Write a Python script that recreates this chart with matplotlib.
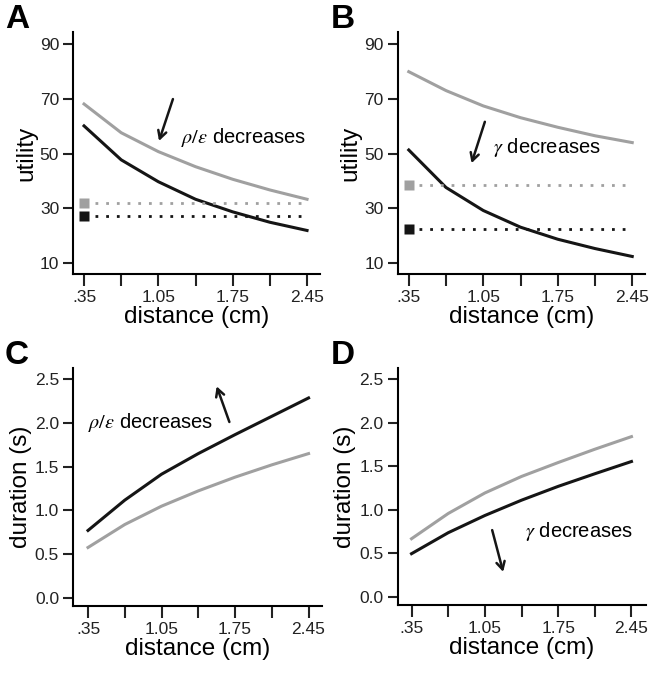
import matplotlib
matplotlib.use("Agg")
import matplotlib.pyplot as plt

plt.rcParams["font.family"] = ["Liberation Sans", "DejaVu Sans"]
plt.rcParams["mathtext.fontset"] = "stix"

# distances (cm)
dist = [0.35, 0.70, 1.05, 1.40, 1.75, 2.10, 2.45]
xtick_labels = [".35", "", "1.05", "", "1.75", "", "2.45"]

# A: utility, rho/eps decreases
a_gray = [68.1, 57.6, 50.7, 45.2, 40.6, 36.7, 33.3]
a_black = [60.1, 47.7, 39.7, 33.3, 28.7, 24.9, 21.9]
a_gray_ref = 32.1
a_black_ref = 27.2

# B: utility, gamma decreases
b_gray = [79.9, 73.0, 67.4, 63.1, 59.6, 56.5, 54.0]
b_black = [51.3, 37.6, 29.2, 23.1, 18.7, 15.3, 12.4]
b_gray_ref = 38.5
b_black_ref = 22.6

# C: duration, rho/eps decreases
c_black = [0.77, 1.117, 1.414, 1.65, 1.867, 2.077, 2.287]
c_gray = [0.575, 0.838, 1.048, 1.223, 1.38, 1.521, 1.65]

# D: duration, gamma decreases
d_gray = [0.667, 0.957, 1.193, 1.383, 1.543, 1.696, 1.841]
d_black = [0.495, 0.736, 0.934, 1.11, 1.269, 1.414, 1.555]

GRAY = "#a0a0a0"
BLACK = "#151515"
W, H = 653, 679

fig = plt.figure(figsize=(W / 100, H / 100), dpi=100)


def px_axes(l, t, r, b):
    return fig.add_axes([l / W, 1 - b / H, (r - l) / W, (b - t) / H])


def style(ax, xlim, ylim, yticks, ylabel):
    for s in ("top", "right"):
        ax.spines[s].set_visible(False)
    for s in ("left", "bottom"):
        ax.spines[s].set_linewidth(1.5)
    ax.set_xlim(*xlim)
    ax.set_ylim(*ylim)
    ax.set_xticks(dist)
    ax.set_xticklabels(xtick_labels)
    ax.set_yticks(yticks[0])
    ax.set_yticklabels(yticks[1])
    ax.tick_params(length=7, width=1.5, labelsize=12.5, pad=3, colors="#222")
    ax.tick_params(axis="x", length=8.5)
    ax.set_xlabel("distance (cm)", fontsize=17.5, labelpad=1)
    ax.set_ylabel(ylabel, fontsize=17.5, labelpad=2)


def refs(ax, g, k):
    ax.plot([0.35], [g], marker="s", ms=6.5, color=GRAY, mec="none", clip_on=False)
    ax.plot([0.35], [k], marker="s", ms=6.5, color=BLACK, mec="none", clip_on=False)
    ax.plot([0.45, 2.45], [g, g], color=GRAY, lw=2, ls=(0, (1, 2.85)))
    ax.plot([0.45, 2.45], [k, k], color=BLACK, lw=2, ls=(0, (1, 2.85)))


arrow = dict(arrowstyle="->,head_length=0.55,head_width=0.3", lw=1.8, color=BLACK,
             shrinkA=0, shrinkB=0)

util_ticks = ([10, 30, 50, 70, 90], ["10", "30", "50", "70", "90"])
dur_ticks = ([0, 0.5, 1.0, 1.5, 2.0, 2.5], ["0.0", "0.5", "1.0", "1.5", "2.0", "2.5"])

# A
ax = px_axes(73, 32, 320, 274)
style(ax, (0.246, 2.572), (6, 94.4), util_ticks, "utility")
ax.plot(dist, a_gray, color=GRAY, lw=2.2)
ax.plot(dist, a_black, color=BLACK, lw=2.2)
refs(ax, a_gray_ref, a_black_ref)
ax.annotate("", xy=(1.056, 54.6), xytext=(1.187, 69.9), arrowprops=arrow)
ax.text(1.26, 55.7, r"$\rho/\varepsilon$ decreases", fontsize=14.5, va="center")

# B
ax = px_axes(397.5, 32, 645, 274)
style(ax, (0.244, 2.57), (6, 94.4), util_ticks, "utility")
ax.plot(dist, b_gray, color=GRAY, lw=2.2)
ax.plot(dist, b_black, color=BLACK, lw=2.2)
refs(ax, b_gray_ref, b_black_ref)
ax.annotate("", xy=(0.94, 46.5), xytext=(1.065, 61.6), arrowprops=arrow)
ax.text(1.143, 52.2, r"$\gamma$ decreases", fontsize=14.5, va="center")

# C
ax = px_axes(73, 368, 322, 606)
style(ax, (0.207, 2.578), (-0.095, 2.63), dur_ticks, "duration (s)")
ax.plot(dist, c_black, color=BLACK, lw=2.2)
ax.plot(dist, c_gray, color=GRAY, lw=2.2)
ax.annotate("", xy=(1.575, 2.42), xytext=(1.696, 2.012), arrowprops=arrow)
ax.text(0.35, 2.01, r"$\rho/\varepsilon$ decreases", fontsize=14.5, va="center")

# D
ax = px_axes(397.5, 368, 645.5, 605)
style(ax, (0.216, 2.584), (-0.095, 2.63), dur_ticks, "duration (s)")
ax.plot(dist, d_gray, color=GRAY, lw=2.2)
ax.plot(dist, d_black, color=BLACK, lw=2.2)
ax.annotate("", xy=(1.225, 0.286), xytext=(1.12, 0.766), arrowprops=arrow)
ax.text(1.432, 0.755, r"$\gamma$ decreases", fontsize=14.5, va="center")

for lab, x, y in [("A", 5, 4), ("B", 331, 4), ("C", 5, 340), ("D", 331, 340)]:
    fig.text(x / W, 1 - y / H, lab, fontsize=24, fontweight="bold", va="top", ha="left")

fig.savefig("out.png", dpi=100)
